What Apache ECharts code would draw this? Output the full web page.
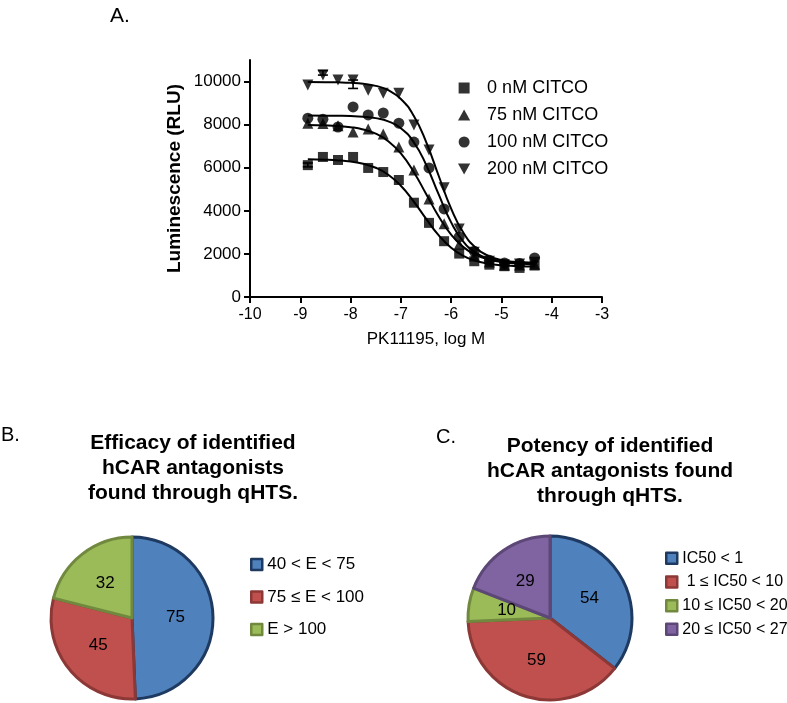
<!DOCTYPE html>
<html>
<head>
<meta charset="utf-8">
<script src="https://cdn.jsdelivr.net/npm/echarts@6/dist/echarts.min.js"></script>
<style>
html,body{margin:0;padding:0;background:#fff;}
#chart{width:787px;height:703px;}
</style>
</head>
<body>
<div id="chart"></div>
<script>
// ---------- Panel A data ----------
const xLog = [-8.85,-8.55,-8.25,-7.95,-7.65,-7.35,-7.04,-6.74,-6.44,-6.14,-5.84,-5.54,-5.24,-4.94,-4.64,-4.34];
const rlu0   = [6120,6500,6360,6500,5990,5800,5430,4376,3440,2590,2015,1660,1500,1430,1350,1460];
const rlu75  = [8070,8050,7950,7660,7800,7560,6960,5890,4550,3400,2450,1900,1620,1480,1480,1520];
const rlu100 = [8300,8250,7890,8820,8450,8540,8070,7190,5990,4090,2790,2120,1700,1580,1560,1810];
const rlu200 = [9840,10300,10070,10070,9600,9460,9460,7980,6820,5070,3160,2080,1660,1500,1530,1610];
// error bars: [x, low, high]
const errBar200 = [[-8.55,10300,10510],[-7.95,9680,10070]];
const errBar0 = [[-8.85,6040,6220]];
// fitted curves, values
const curveX = [-8.85,-8.5,-8.25,-8,-7.75,-7.5,-7.25,-7,-6.75,-6.5,-6.25,-6,-5.75,-5.5,-5.25,-5,-4.75,-4.5,-4.34];
const fit0   = [6388,6369,6341,6286,6184,5998,5675,5163,4454,3636,2872,2286,1900,1671,1543,1475,1439,1420,1413];
const fit75  = [7987,7968,7939,7883,7776,7581,7233,6663,5828,4793,3751,2895,2303,1941,1735,1623,1564,1533,1522];
const fit100 = [8419,8416,8410,8397,8368,8302,8154,7836,7208,6152,4772,3463,2548,2037,1786,1671,1620,1597,1590];
const fit200 = [9977,9972,9962,9941,9896,9800,9598,9191,8434,7213,5640,4101,2955,2265,1899,1719,1634,1594,1581];
const seriesNames = ['0 nM CITCO','75 nM CITCO','100 nM CITCO','200 nM CITCO'];
const xTicks = [-10,-9,-8,-7,-6,-5,-4,-3];
const yTicks = [0,2000,4000,6000,8000,10000];

// ---------- Panel B data ----------
const effCats = ['40 < E < 75','75 \u2264 E < 100','E > 100'];
const effVals = [75,45,32];
// ---------- Panel C data ----------
const potCats = ['IC50 < 1',' 1 \u2264 IC50 < 10','10 \u2264 IC50 < 20','20 \u2264 IC50 < 27'];
const potVals = [54,59,10,29];

const FONT = 'Liberation Sans, Arial, sans-serif';
const fills   = ['#4F81BD','#C0504D','#9BBB59','#8064A2'];
const borders = ['#1F3A60','#8C3836','#71893F','#5C4776'];

function zip(xs, ys){ return xs.map((x,i)=>[x, ys[i]]); }
const invTri = 'path://M0,0 L10,0 L5,9 Z';
const upTri = 'path://M5,0 L10,9 L0,9 Z';
const square = 'path://M0,0 L10,0 L10,10 L0,10 Z';

function errRender(params, api){
  const x = api.value(0), lo = api.value(1), hi = api.value(2);
  const p1 = api.coord([x, lo]), p2 = api.coord([x, hi]);
  const w = 5;
  const st = {stroke:'#000', lineWidth:1.6};
  return {type:'group', children:[
    {type:'line', shape:{x1:p1[0],y1:p1[1],x2:p2[0],y2:p2[1]}, style:st},
    {type:'line', shape:{x1:p1[0]-w,y1:p1[1],x2:p1[0]+w,y2:p1[1]}, style:st},
    {type:'line', shape:{x1:p2[0]-w,y1:p2[1],x2:p2[0]+w,y2:p2[1]}, style:st}
  ]};
}

const chart = echarts.init(document.getElementById('chart'), null, {renderer:'canvas'});

const lineStyle = {color:'#000', width:2};
function fitSeries(name, ys){
  return {name:name, type:'line', data:zip(curveX, ys), smooth:true,
    showSymbol:false, symbol:'none', lineStyle:lineStyle, silent:true, z:2};
}
function ptSeries(name, ys, symbol, size){
  return {name:name, type:'scatter', data:zip(xLog, ys), symbol:symbol, symbolSize:size,
    itemStyle:{color:'#000'}, z:3};
}

const option = {
  animation:false,
  backgroundColor:'#fff',
  textStyle:{fontFamily:FONT},
  graphic:[
    {type:'text', left:110, top:6, style:{text:'A.', fontSize:21, fontFamily:FONT, fill:'#000'}},
    {type:'text', left:1, top:425, style:{text:'B.', fontSize:20, fontFamily:FONT, fill:'#000'}},
    {type:'text', left:436, top:427, style:{text:'C.', fontSize:20, fontFamily:FONT, fill:'#000'}},
    {type:'text', x:193, y:431, style:{text:'Efficacy of identified\nhCAR antagonists\nfound through qHTS.',
      fontSize:21, fontWeight:'bold', fontFamily:FONT, fill:'#000', align:'center', verticalAlign:'top', lineHeight:25}},
    {type:'text', x:610, y:434, style:{text:'Potency of identified\nhCAR antagonists found\nthrough qHTS.',
      fontSize:21, fontWeight:'bold', fontFamily:FONT, fill:'#000', align:'center', verticalAlign:'top', lineHeight:25}}
  ],
  grid:{left:250, right:185, top:60, bottom:406, containLabel:false},
  xAxis:{type:'value', min:-10, max:-3, interval:1,
    name:'PK11195, log M', nameLocation:'middle', nameGap:34,
    nameTextStyle:{fontSize:17, color:'#000', fontFamily:FONT},
    axisLine:{show:true, onZero:false, lineStyle:{color:'#000', width:2}},
    axisTick:{show:true, length:6, lineStyle:{color:'#000', width:2}, customValues:xTicks},
    axisLabel:{fontSize:16, color:'#000', margin:10, fontFamily:FONT, customValues:xTicks,
      formatter:(v)=>String(v)},
    splitLine:{show:false}},
  yAxis:{type:'value', min:0, max:11000,
    name:'Luminescence (RLU)', nameLocation:'middle', nameGap:66, nameRotate:90,
    nameTextStyle:{fontSize:19, fontWeight:'bold', color:'#000', fontFamily:FONT},
    axisLine:{show:true, onZero:false, lineStyle:{color:'#000', width:2}},
    axisTick:{show:true, length:6, lineStyle:{color:'#000', width:2}, customValues:yTicks},
    axisLabel:{fontSize:17, color:'#000', margin:9, fontFamily:FONT, customValues:yTicks,
      formatter:(v)=>String(v)},
    splitLine:{show:false}},
  legend:[
    {data:seriesNames, orient:'vertical', left:453, top:74, itemWidth:36, itemHeight:11, itemGap:9,
      textStyle:{fontSize:18, lineHeight:18, color:'#000', fontFamily:FONT}, selectedMode:false},
    {data:effCats, orient:'vertical', left:245, top:551, itemWidth:11, itemHeight:11, itemGap:15.5, icon:'rect',
      itemStyle:{borderWidth:2.5}, textStyle:{fontSize:17, lineHeight:17, color:'#000', fontFamily:FONT}, selectedMode:false},
    {data:potCats, orient:'vertical', left:660, top:545, itemWidth:11, itemHeight:11, itemGap:7.2, icon:'rect',
      itemStyle:{borderWidth:2.5}, textStyle:{fontSize:16, lineHeight:16.5, color:'#000', fontFamily:FONT}, selectedMode:false}
  ],
  series:[
    fitSeries('fit0', fit0), fitSeries('fit75', fit75), fitSeries('fit100', fit100), fitSeries('fit200', fit200),
    ptSeries(seriesNames[0], rlu0, square, 10),
    ptSeries(seriesNames[1], rlu75, upTri, 11),
    ptSeries(seriesNames[2], rlu100, 'circle', 11),
    ptSeries(seriesNames[3], rlu200, invTri, 11),
    {type:'custom', name:'err200', data:errBar200, renderItem:errRender, z:4, silent:true},
    {type:'custom', name:'err0', data:errBar0, renderItem:errRender, z:4, silent:true},
    {type:'pie', name:'Efficacy', center:[132,618], radius:81, startAngle:90, clockwise:true,
      data:effCats.map((c,i)=>({name:c, value:effVals[i], itemStyle:{color:fills[i], borderColor:borders[i], borderWidth:3}})),
      label:{show:true, position:'inner', formatter:'{c}', fontSize:17, color:'#000', fontFamily:FONT},
      labelLine:{show:false}, emphasis:{disabled:true}},
    {type:'pie', name:'Potency', center:[550,618], radius:82, startAngle:90, clockwise:true,
      data:potCats.map((c,i)=>({name:c, value:potVals[i], itemStyle:{color:fills[i], borderColor:borders[i], borderWidth:3}})),
      label:{show:true, position:'inner', formatter:'{c}', fontSize:17, color:'#000', fontFamily:FONT},
      labelLine:{show:false}, emphasis:{disabled:true}}
  ]
};
chart.setOption(option);
</script>
</body>
</html>
